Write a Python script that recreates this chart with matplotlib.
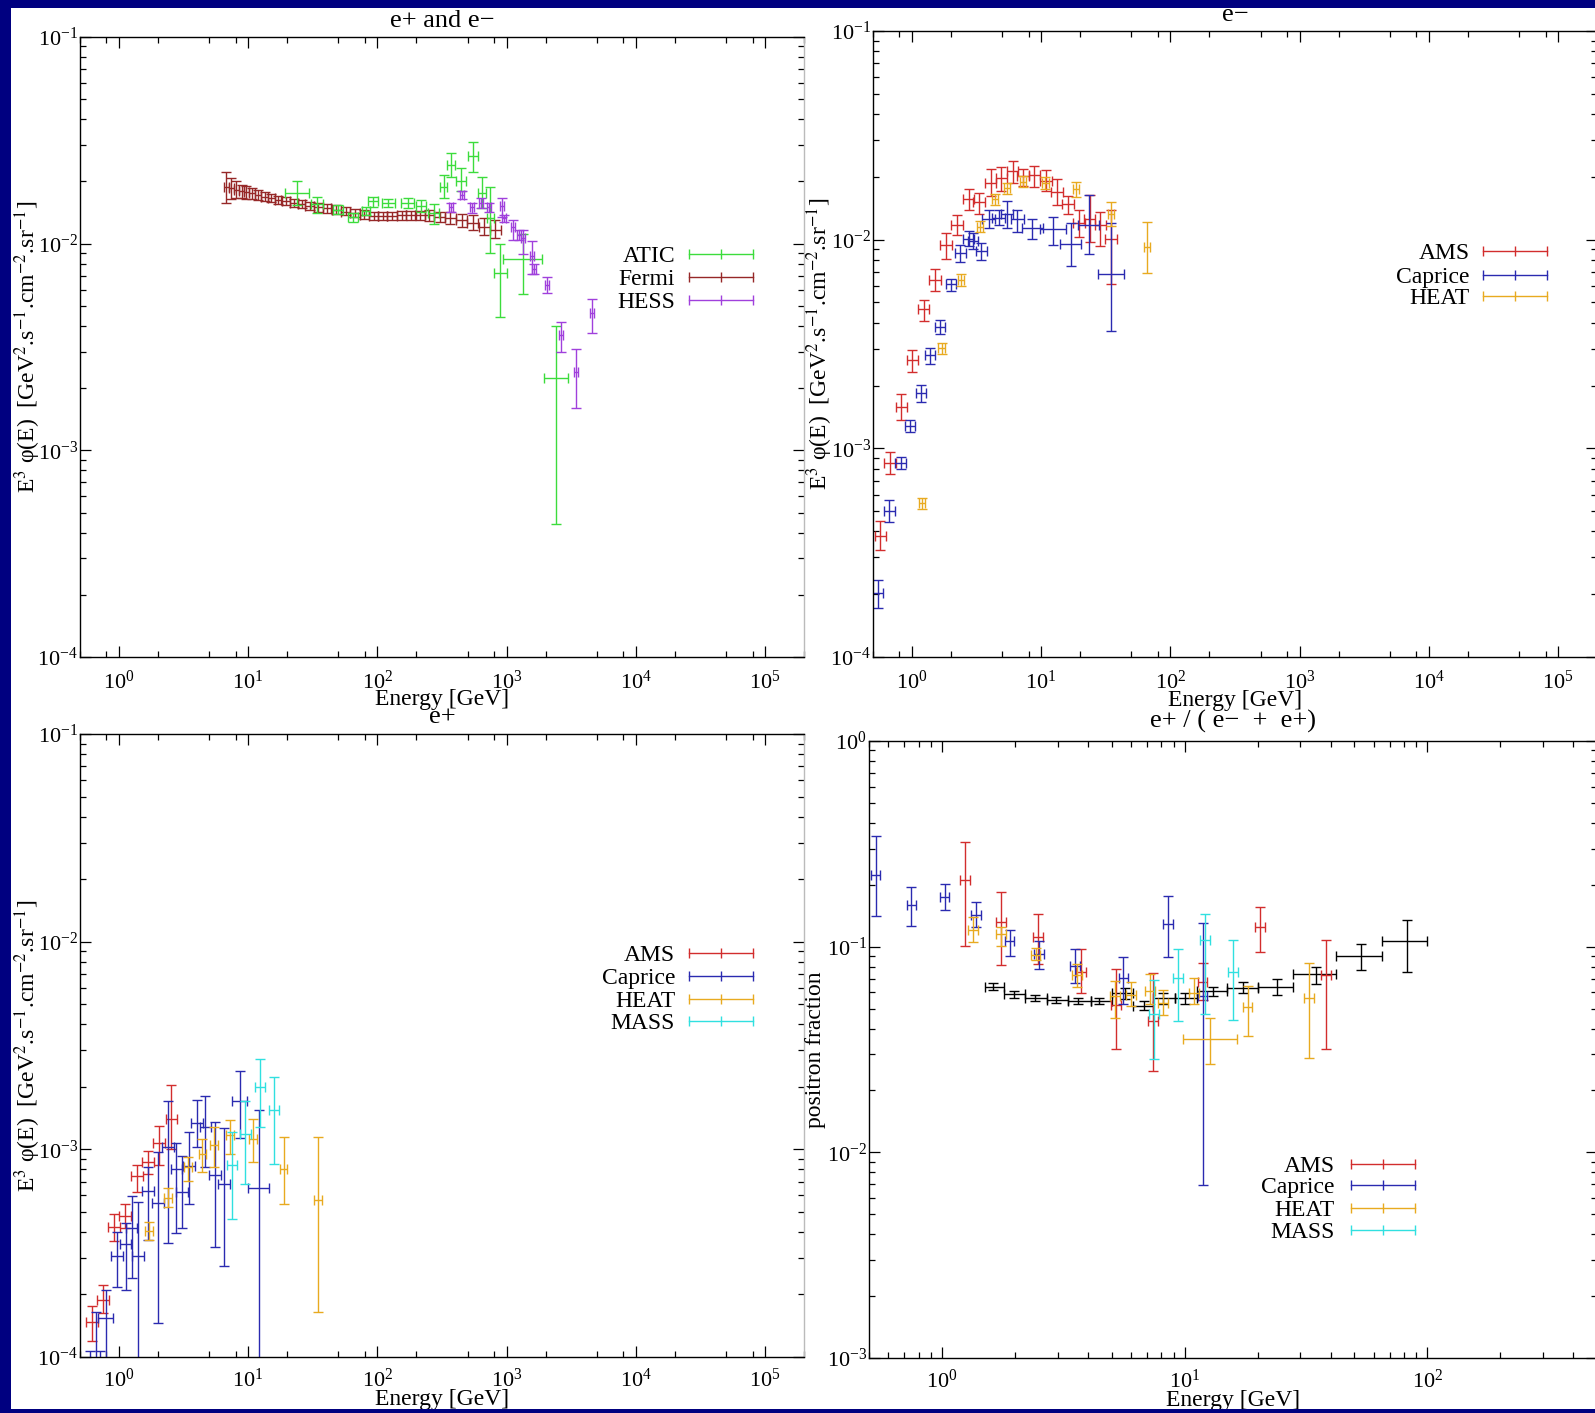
#
# Cosmic-ray electron / positron spectra, four panels
#
import numpy as np
import matplotlib
matplotlib.use('Agg')
import matplotlib.pyplot as plt
from matplotlib.ticker import LogLocator, NullFormatter
from matplotlib.patches import Rectangle

plt.rcParams['font.family'] = ['Liberation Serif', 'DejaVu Serif']
plt.rcParams['mathtext.fontset'] = 'stix'

# ---------------- e+ and e- (E^3 flux, GeV^2 s^-1 cm^-2 sr^-1) ----------------
atic_E = [23.9, 34.1, 49.5, 64.7, 82.0, 92.4, 121, 172, 218, 272, 325, 372, 445, 547, 646, 750, 891, 1333, 2415]
atic_y = [0.0175, 0.0156, 0.0146, 0.0134, 0.0144, 0.0160, 0.0157, 0.0157, 0.0152, 0.0140, 0.0189, 0.0240,
          0.0202, 0.0266, 0.0175, 0.0133, 0.0072, 0.0084, 0.00223]
atic_lo = [0.0154, 0.0140, 0.0139, 0.0127, 0.0137, 0.0151, 0.0150, 0.0148, 0.0142, 0.0125, 0.0166, 0.0211,
           0.0179, 0.0221, 0.0148, 0.0090, 0.0044, 0.0057, 0.00044]
atic_hi = [0.0200, 0.0169, 0.0153, 0.0141, 0.0151, 0.0169, 0.0164, 0.0166, 0.0163, 0.0156, 0.0215, 0.0274,
           0.0232, 0.0312, 0.0210, 0.0189, 0.0100, 0.0111, 0.0040]
atic_dx = [0.09, 0.05, 0.04, 0.04, 0.03, 0.04, 0.05, 0.05, 0.04, 0.04, 0.03, 0.03, 0.04, 0.04, 0.03, 0.03,
           0.05, 0.15, 0.09]

fermi_E = [6.8, 7.4, 8.1, 8.9, 9.7, 10.8, 12.0, 13.4, 15.1, 17.0, 19.5, 22.5, 25.9, 29.9, 34.9, 40.7, 48.1,
           56.8, 67.0, 79.1, 93.4, 110, 130, 154, 182, 214, 253, 303, 366, 448, 547, 673, 819]
fermi_y = [0.0187, 0.0185, 0.0182, 0.0179, 0.0177, 0.0175, 0.0172, 0.0169, 0.0166, 0.0163, 0.0160, 0.0157,
           0.0155, 0.0152, 0.0150, 0.0148, 0.0146, 0.0143, 0.0140, 0.0138, 0.0136, 0.0136, 0.0136, 0.0137,
           0.0137, 0.0137, 0.0137, 0.0135, 0.0133, 0.0130, 0.0126, 0.0121, 0.0117]
fermi_lo = [0.0157, 0.0165, 0.0166, 0.0167, 0.0165, 0.0165, 0.0162, 0.0161, 0.0159, 0.0156, 0.0153, 0.0150,
            0.0148, 0.0145, 0.0143, 0.0141, 0.0139, 0.0137, 0.0134, 0.0132, 0.0130, 0.0130, 0.0130, 0.0130,
            0.0130, 0.0130, 0.0129, 0.0127, 0.0125, 0.0121, 0.0116, 0.0110, 0.0106]
fermi_hi = [0.0222, 0.0208, 0.0200, 0.0192, 0.0190, 0.0185, 0.0182, 0.0177, 0.0174, 0.0171, 0.0168, 0.0164,
            0.0162, 0.0159, 0.0157, 0.0155, 0.0153, 0.0150, 0.0147, 0.0145, 0.0142, 0.0142, 0.0142, 0.0144,
            0.0144, 0.0144, 0.0145, 0.0143, 0.0142, 0.0139, 0.0137, 0.0133, 0.0130]
fermi_dx = [0.02, 0.02, 0.02, 0.02, 0.02, 0.023, 0.023, 0.025, 0.026, 0.026, 0.03, 0.03, 0.03, 0.032, 0.034,
            0.034, 0.036, 0.036, 0.036, 0.036, 0.036, 0.036, 0.036, 0.036, 0.036, 0.036, 0.038, 0.04, 0.042,
            0.044, 0.044, 0.044, 0.044]

hess_E = [372, 450, 538, 635, 736, 923, 950, 1129, 1242, 1333, 1574, 1620, 2043, 2637, 3442, 4578]
hess_y = [0.0150, 0.0172, 0.0150, 0.0158, 0.0150, 0.0152, 0.0133, 0.0121, 0.0110, 0.0106, 0.0087, 0.0075,
          0.0063, 0.0036, 0.0024, 0.0046]
hess_lo = [0.0143, 0.0164, 0.0141, 0.0148, 0.0143, 0.0134, 0.0128, 0.0104, 0.0104, 0.0089, 0.0071, 0.0071,
           0.0058, 0.0030, 0.0016, 0.0037]
hess_hi = [0.0158, 0.0179, 0.0158, 0.0166, 0.0158, 0.0167, 0.0138, 0.0130, 0.0117, 0.0117, 0.0103, 0.0080,
           0.0069, 0.0042, 0.0031, 0.0054]
hess_dx = [0.015] * len(hess_E)

# ---------------- e- ----------------
ams_em_E = [0.57, 0.68, 0.83, 1.01, 1.23, 1.51, 1.84, 2.23, 2.75, 3.32, 4.06, 4.92, 6.01, 7.27, 8.88, 10.9,
            13.3, 16.2, 19.6, 23.7, 28.7, 34.8]
ams_em_y = [3.82e-4, 8.53e-4, 1.57e-3, 2.64e-3, 4.65e-3, 6.43e-3, 9.44e-3, 0.0117, 0.0156, 0.0152, 0.0187,
            0.0197, 0.0214, 0.0202, 0.0204, 0.0192, 0.0170, 0.0148, 0.0120, 0.0126, 0.0117, 0.0101]
ams_em_lo = [3.24e-4, 7.50e-4, 1.36e-3, 2.31e-3, 4.06e-3, 5.69e-3, 8.11e-3, 0.0105, 0.0138, 0.0133, 0.0162,
             0.0171, 0.0187, 0.0180, 0.0178, 0.0171, 0.0146, 0.0133, 0.0103, 0.0097, 0.0093, 0.0061]
ams_em_hi = [4.47e-4, 9.64e-4, 1.82e-3, 2.95e-3, 5.15e-3, 7.23e-3, 0.0108, 0.0131, 0.0175, 0.0168, 0.0217,
             0.0223, 0.0237, 0.0219, 0.0225, 0.0215, 0.0195, 0.0162, 0.0139, 0.0164, 0.0136, 0.0138]
ams_em_dx = [0.045] * len(ams_em_E)

caprice_em_E = [0.543, 0.670, 0.818, 0.964, 1.178, 1.388, 1.650, 1.997, 2.373, 2.746, 2.98, 3.45, 3.92, 4.70,
                5.44, 6.52, 8.57, 12.3, 16.9, 23.3, 34.8]
caprice_em_y = [2.03e-4, 5.01e-4, 8.53e-4, 1.277e-3, 1.85e-3, 2.81e-3, 3.81e-3, 6.12e-3, 8.59e-3, 0.0101,
                0.00987, 0.00881, 0.0126, 0.01275, 0.0133, 0.0126, 0.0114, 0.0112, 0.0095, 0.0117, 0.00683]
caprice_em_lo = [1.72e-4, 4.43e-4, 8.0e-4, 1.197e-3, 1.675e-3, 2.55e-3, 3.54e-3, 5.69e-3, 7.83e-3, 9.30e-3,
                 9.0e-3, 8.02e-3, 0.0114, 0.0117, 0.0114, 0.0109, 0.0101, 0.0094, 0.0075, 0.0085, 0.00365]
caprice_em_hi = [2.33e-4, 5.66e-4, 9.04e-4, 1.361e-3, 2.02e-3, 3.03e-3, 4.10e-3, 6.49e-3, 9.39e-3, 0.0110,
                 0.0108, 0.0096, 0.0139, 0.0138, 0.0154, 0.0139, 0.0126, 0.0129, 0.0120, 0.0164, 0.0120]
caprice_em_dx = [0.045, 0.045, 0.04, 0.04, 0.04, 0.04, 0.04, 0.04, 0.04, 0.04, 0.04, 0.04, 0.05, 0.05, 0.05,
                 0.05, 0.08, 0.1, 0.08, 0.08, 0.1]

heat_em_E = [1.20, 1.70, 2.40, 3.36, 4.41, 5.44, 7.27, 10.8, 18.6, 34.8, 65.8]
heat_em_y = [5.47e-4, 3.03e-3, 6.40e-3, 0.01156, 0.01568, 0.01766, 0.0190, 0.0187, 0.0174, 0.0133, 0.00926]
heat_em_lo = [5.13e-4, 2.84e-3, 6.03e-3, 0.01089, 0.01464, 0.01656, 0.0178, 0.0174, 0.0160, 0.0116, 0.00692]
heat_em_hi = [5.75e-4, 3.21e-3, 6.83e-3, 0.01232, 0.01656, 0.01873, 0.0202, 0.0199, 0.0189, 0.0152, 0.0122]
heat_em_dx = [0.025] * len(heat_em_E)

# ---------------- e+ ----------------
ams_ep_E = [0.615, 0.748, 0.92, 1.11, 1.386, 1.686, 2.05, 2.55]
ams_ep_y = [1.48e-4, 1.88e-4, 4.25e-4, 4.78e-4, 7.40e-4, 8.73e-4, 1.077e-3, 1.396e-3]
ams_ep_lo = [1.195e-4, 1.63e-4, 3.62e-4, 4.17e-4, 6.26e-4, 7.62e-4, 8.41e-4, 1.0e-3]
ams_ep_hi = [1.76e-4, 2.22e-4, 4.87e-4, 5.44e-4, 8.38e-4, 9.86e-4, 1.297e-3, 2.04e-3]
ams_ep_dx = [0.046] * len(ams_ep_E)

caprice_ep_E = [0.60, 0.67, 0.72, 0.79, 0.971, 1.126, 1.253, 1.41, 1.686, 2.01, 2.41, 2.79, 3.09, 3.50, 4.03,
                4.67, 5.52, 6.48, 8.61, 12.08]
caprice_ep_y = [7e-5, 9e-5, 7e-5, 1.54e-4, 3.08e-4, 3.50e-4, 4.17e-4, 3.05e-4, 6.33e-4, 5.54e-4, 1.03e-3,
                8.04e-4, 6.26e-4, 8.35e-4, 1.345e-3, 1.277e-3, 7.53e-4, 6.84e-4, 1.70e-3, 6.50e-4]
caprice_ep_lo = [4e-5, 4e-5, 4e-5, 5e-5, 2.18e-4, 2.10e-4, 2.39e-4, 8e-5, 3.66e-4, 1.465e-4, 3.53e-4, 3.94e-4,
                 4.17e-4, 5.44e-4, 1.03e-3, 8.26e-4, 3.40e-4, 2.75e-4, 1.13e-3, 5e-5]
caprice_ep_hi = [1.07e-4, 1.64e-4, 1.07e-4, 2.10e-4, 4.02e-4, 4.41e-4, 5.99e-4, 5.56e-4, 8.26e-4, 9.68e-4,
                 1.71e-3, 1.077e-3, 9.29e-4, 1.217e-3, 1.73e-3, 1.807e-3, 1.35e-3, 1.263e-3, 2.39e-3, 1.55e-3]
caprice_ep_dx = [0.03, 0.03, 0.03, 0.06, 0.045, 0.045, 0.045, 0.045, 0.045, 0.045, 0.045, 0.045, 0.045, 0.045,
                 0.045, 0.045, 0.045, 0.045, 0.06, 0.08]

heat_ep_E = [1.706, 2.41, 3.43, 4.43, 5.45, 7.21, 10.9, 18.8, 34.7]
heat_ep_y = [4.06e-4, 5.86e-4, 8.26e-4, 9.47e-4, 1.05e-3, 1.173e-3, 1.12e-3, 8.04e-4, 5.71e-4]
heat_ep_lo = [3.64e-4, 5.29e-4, 7.07e-4, 7.82e-4, 8.26e-4, 9.50e-4, 8.66e-4, 5.44e-4, 1.64e-4]
heat_ep_hi = [4.49e-4, 6.50e-4, 9.23e-4, 1.12e-3, 1.277e-3, 1.385e-3, 1.407e-3, 1.143e-3, 1.143e-3]
heat_ep_dx = [0.03] * len(heat_ep_E)

mass_ep_E = [7.51, 9.52, 12.3, 15.9]
mass_ep_y = [8.41e-4, 1.182e-3, 2.00e-3, 1.55e-3]
mass_ep_lo = [4.62e-4, 6.79e-4, 1.277e-3, 8.48e-4]
mass_ep_hi = [1.208e-3, 1.70e-3, 2.72e-3, 2.24e-3]
mass_ep_dx = [0.04] * len(mass_ep_E)

# ---------------- positron fraction ----------------
pamela_E = [1.62, 1.97, 2.42, 2.95, 3.65, 4.43, 5.67, 6.78, 8.16, 10.0, 13.06, 17.46, 23.9, 34.8, 53.2, 82.4]
pamela_Elo = [1.5, 1.8, 2.2, 2.7, 3.3, 4.1, 5.0, 6.1, 7.4, 9.1, 11.2, 15.0, 20.0, 28.0, 42.0, 65.0]
pamela_Ehi = [1.8, 2.2, 2.7, 3.3, 4.1, 5.0, 6.1, 7.4, 9.1, 11.2, 15.0, 20.0, 28.0, 42.0, 65.0, 100.0]
pamela_y = [0.0640, 0.0587, 0.0563, 0.0549, 0.0544, 0.0544, 0.0593, 0.0517, 0.0563, 0.0563, 0.0608, 0.0633,
            0.0640, 0.0734, 0.0900, 0.1065]
pamela_lo = [0.0614, 0.0565, 0.0545, 0.0530, 0.0525, 0.0525, 0.0557, 0.0492, 0.0528, 0.0528, 0.0575, 0.0593,
             0.0583, 0.0660, 0.0772, 0.0752]
pamela_hi = [0.0666, 0.0607, 0.0583, 0.0568, 0.0563, 0.0563, 0.0630, 0.0542, 0.0593, 0.0593, 0.0640, 0.0674,
             0.0700, 0.0800, 0.1027, 0.1352]

ams_pf_E = [1.244, 1.746, 2.49, 3.74, 5.20, 7.40, 11.85, 20.4, 38.3]
ams_pf_y = [0.2117, 0.1318, 0.1109, 0.0753, 0.0522, 0.0437, 0.0673, 0.1253, 0.0727]
ams_pf_lo = [0.1002, 0.0817, 0.0826, 0.0593, 0.0319, 0.0249, 0.0549, 0.0937, 0.0319]
ams_pf_hi = [0.321, 0.1845, 0.1445, 0.0971, 0.0777, 0.0745, 0.0834, 0.1551, 0.1081]
ams_pf_dx = [0.02] * len(ams_pf_E)

caprice_pf_E = [0.5325, 0.748, 1.024, 1.384, 1.897, 2.512, 3.53, 5.59, 8.56, 11.85]
caprice_pf_y = [0.2228, 0.160, 0.1753, 0.1430, 0.1065, 0.0923, 0.0804, 0.0701, 0.1291, 0.0578]
caprice_pf_lo = [0.1409, 0.1259, 0.1505, 0.1240, 0.0905, 0.0777, 0.0666, 0.0527, 0.0891, 0.00692]
caprice_pf_hi = [0.3468, 0.194, 0.2011, 0.164, 0.1209, 0.1065, 0.0971, 0.0891, 0.177, 0.1305]
caprice_pf_dx = [0.02] * len(caprice_pf_E)

heat_pf_E = [1.338, 1.746, 2.43, 3.61, 5.15, 6.01, 7.19, 8.12, 10.9, 12.74, 18.15, 32.5]
heat_pf_y = [0.1209, 0.1149, 0.0914, 0.0727, 0.0578, 0.0584, 0.0608, 0.0535, 0.0593, 0.0356, 0.0509, 0.0563]
heat_pf_lo = [0.1054, 0.1012, 0.0859, 0.0640, 0.0452, 0.0517, 0.0527, 0.0467, 0.0527, 0.0269, 0.0366, 0.0286]
heat_pf_hi = [0.1387, 0.1253, 0.0986, 0.0825, 0.068, 0.0673, 0.0738, 0.0614, 0.0701, 0.0448, 0.0646, 0.0834]
heat_pf_dx = [0.02, 0.02, 0.02, 0.02, 0.02, 0.02, 0.02, 0.02, 0.02, 0.112, 0.02, 0.02]

mass_pf_E = [7.48, 9.39, 12.14, 15.85]
mass_pf_y = [0.0471, 0.0701, 0.1075, 0.0753]
mass_pf_lo = [0.0283, 0.0437, 0.0471, 0.0441]
mass_pf_hi = [0.0691, 0.0971, 0.1445, 0.1075]
mass_pf_dx = [0.02] * len(mass_pf_E)

# colours per experiment
C_ATIC = '#3cdc3c'
C_FERMI = '#962828'
C_HESS = '#a040dc'
C_AMS = '#d22d2d'
C_CAPRICE = '#2a2ab0'
C_HEAT = '#e8aa20'
C_MASS = '#30e0e0'

YLAB = r'E$^{3}$ φ(E)  [GeV$^{2}$.s$^{-1}$.cm$^{-2}$.sr$^{-1}$]'
W, H = 1595, 1413


def rect(l, t, r, b):
    # pixel box (left, top, right, bottom) -> figure fraction
    return [l / W, 1 - b / H, (r - l) / W, (b - t) / H]


def points(ax, E, y, lo, hi, dx, color):
    E = np.asarray(E, float)
    y = np.asarray(y, float)
    dx = np.asarray(dx, float)
    xerr = [E - E / 10 ** dx, E * 10 ** dx - E]
    yerr = [y - np.asarray(lo), np.asarray(hi) - y]
    ax.errorbar(E, y, xerr=xerr, yerr=yerr, fmt='none', ecolor=color,
                elinewidth=1.0, capsize=3.5, capthick=1.0)


def key(ax, rows, xt, x0, x1, ys):
    # text on the left, errorbar sample on the right
    for (name, color), y in zip(rows, ys):
        ax.text(xt, y, name, transform=ax.transAxes, ha='right', va='center_baseline', fontsize=17)
        ax.plot([x0, (x0 + x1) / 2, x1], [y, y, y], color=color, lw=1.0, marker='|', ms=7, mew=1.0,
                transform=ax.transAxes, clip_on=False)


def setup(ax, xlim, ylim, title, tpad, ylabel, xsubs, xpad, ylab_x, xlab_y):
    ax.set_xscale('log')
    ax.set_yscale('log')
    ax.set_xlim(*xlim)
    ax.set_ylim(*ylim)
    ax.xaxis.set_major_locator(LogLocator(base=10, numticks=20))
    ax.xaxis.set_minor_locator(LogLocator(base=10, subs=xsubs, numticks=20))
    ax.xaxis.set_minor_formatter(NullFormatter())
    ax.yaxis.set_major_locator(LogLocator(base=10, numticks=20))
    ax.yaxis.set_minor_locator(LogLocator(base=10, subs=np.arange(2, 10), numticks=20))
    ax.yaxis.set_minor_formatter(NullFormatter())
    ax.tick_params(which='both', direction='in', top=True, right=True, width=0.9, labelsize=16)
    ax.tick_params(which='major', length=8)
    ax.tick_params(which='minor', length=4.3)
    ax.tick_params(axis='x', pad=xpad)
    ax.tick_params(axis='y', pad=1.5)
    for s in ['left', 'bottom', 'top']:
        ax.spines[s].set_linewidth(1.0)
    ax.spines['right'].set_color('#bbbbbb')
    ax.spines['right'].set_linewidth(1.0)
    ax.set_title(title, fontsize=19, pad=tpad)
    ax.set_xlabel('Energy [GeV]', fontsize=17)
    ax.xaxis.set_label_coords(0.5, xlab_y)
    ax.set_ylabel(ylabel, fontsize=17, va='center')
    ax.yaxis.set_label_coords(ylab_x, 0.5)


fig = plt.figure(figsize=(W / 100, H / 100), dpi=100)
fig.patch.set_facecolor('white')

ax1 = fig.add_axes(rect(80, 37, 804, 657))
ax2 = fig.add_axes(rect(873, 31, 1597, 657))
ax3 = fig.add_axes(rect(80, 734, 804, 1357))
ax4 = fig.add_axes(rect(869, 741, 1597, 1358))

sub258 = (2, 5, 8)
sub_all = np.arange(2, 10)

# top left: e+ and e-
setup(ax1, (0.5, 2e5), (1e-4, 1e-1), 'e+ and e\u2212', 7, YLAB, sub258, 10, -0.072, -0.052)
points(ax1, fermi_E, fermi_y, fermi_lo, fermi_hi, fermi_dx, C_FERMI)
points(ax1, atic_E, atic_y, atic_lo, atic_hi, atic_dx, C_ATIC)
points(ax1, hess_E, hess_y, hess_lo, hess_hi, hess_dx, C_HESS)
key(ax1, [('ATIC', C_ATIC), ('Fermi', C_FERMI), ('HESS', C_HESS)], 0.822, 0.841, 0.930, [0.650, 0.613, 0.576])

# top right: e-
setup(ax2, (0.5, 2e5), (1e-4, 1e-1), 'e\u2212', 7, YLAB, sub258, 10, -0.073, -0.052)
points(ax2, ams_em_E, ams_em_y, ams_em_lo, ams_em_hi, ams_em_dx, C_AMS)
points(ax2, caprice_em_E, caprice_em_y, caprice_em_lo, caprice_em_hi, caprice_em_dx, C_CAPRICE)
points(ax2, heat_em_E, heat_em_y, heat_em_lo, heat_em_hi, heat_em_dx, C_HEAT)
key(ax2, [('AMS', C_AMS), ('Caprice', C_CAPRICE), ('HEAT', C_HEAT)], 0.824, 0.842, 0.931, [0.649, 0.611, 0.576])

# bottom left: e+
setup(ax3, (0.5, 2e5), (1e-4, 1e-1), 'e+', 8, YLAB, sub258, 8.5, -0.072, -0.052)
points(ax3, ams_ep_E, ams_ep_y, ams_ep_lo, ams_ep_hi, ams_ep_dx, C_AMS)
points(ax3, caprice_ep_E, caprice_ep_y, caprice_ep_lo, caprice_ep_hi, caprice_ep_dx, C_CAPRICE)
points(ax3, heat_ep_E, heat_ep_y, heat_ep_lo, heat_ep_hi, heat_ep_dx, C_HEAT)
points(ax3, mass_ep_E, mass_ep_y, mass_ep_lo, mass_ep_hi, mass_ep_dx, C_MASS)
key(ax3, [('AMS', C_AMS), ('Caprice', C_CAPRICE), ('HEAT', C_HEAT), ('MASS', C_MASS)],
    0.822, 0.841, 0.930, [0.648, 0.611, 0.575, 0.539])

# bottom right: positron fraction
setup(ax4, (0.5, 500), (1e-3, 1), 'e+ / ( e\u2212  +  e+)', 10, 'positron fraction', sub_all, 8.5,
      -0.074, -0.052)
pe = np.asarray(pamela_E)
ax4.errorbar(pe, pamela_y, xerr=[pe - np.asarray(pamela_Elo), np.asarray(pamela_Ehi) - pe],
             yerr=[np.asarray(pamela_y) - np.asarray(pamela_lo), np.asarray(pamela_hi) - np.asarray(pamela_y)],
             fmt='none', ecolor='black', elinewidth=1.0, capsize=3.5, capthick=1.0)
points(ax4, ams_pf_E, ams_pf_y, ams_pf_lo, ams_pf_hi, ams_pf_dx, C_AMS)
points(ax4, caprice_pf_E, caprice_pf_y, caprice_pf_lo, caprice_pf_hi, caprice_pf_dx, C_CAPRICE)
points(ax4, heat_pf_E, heat_pf_y, heat_pf_lo, heat_pf_hi, heat_pf_dx, C_HEAT)
points(ax4, mass_pf_E, mass_pf_y, mass_pf_lo, mass_pf_hi, mass_pf_dx, C_MASS)
key(ax4, [('AMS', C_AMS), ('Caprice', C_CAPRICE), ('HEAT', C_HEAT), ('MASS', C_MASS)],
    0.640, 0.662, 0.750, [0.314, 0.280, 0.243, 0.208])

# navy frame on top, left and bottom edges
for x, y, w, h in [(0, H - 7.5, W, 7.5), (0, 0, 11, H), (0, 0, W, 4)]:
    fig.patches.append(Rectangle((x / W, y / H), w / W, h / H, transform=fig.transFigure,
                                 facecolor='#000080', edgecolor='none', zorder=10))

fig.savefig('out.png', dpi=100, facecolor='white')
